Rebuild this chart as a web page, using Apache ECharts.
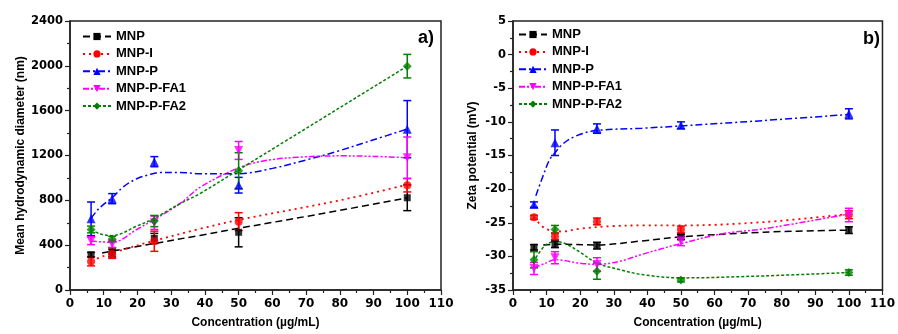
<!DOCTYPE html>
<html>
<head>
<meta charset="utf-8">
<script src="https://cdn.jsdelivr.net/npm/echarts@6/dist/echarts.min.js"></script>
<style>html,body{margin:0;padding:0;background:#fff}#c{width:898px;height:334px}</style>
</head>
<body>
<div id="c"></div>
<script>
// ---------- DATA ----------
const conc = [6.25, 12.5, 25, 50, 100];
const names = ['MNP', 'MNP-I', 'MNP-P', 'MNP-P-FA1', 'MNP-P-FA2'];
const xTicks = [0, 10, 20, 30, 40, 50, 60, 70, 80, 90, 100, 110];
const sizeTicks = [0, 400, 800, 1200, 1600, 2000, 2400];
const zetaTicks = [-35, -30, -25, -20, -15, -10, -5, 0, 5];

// a) mean hydrodynamic diameter (nm)
const sizeMNP     = [315, 335, 460, 515, 823];
const sizeMNP_I   = [255, 322, 435, 610, 935];
const sizeMNP_P   = [635, 815, 1145, 935, 1435];
const sizeFA1     = [440, 410, 600, 1245, 1180];
const sizeFA2     = [540, 455, 615, 1065, 1997];
const sizeErrMNP   = [20, 40, 45, 130, 115];
const sizeErrMNP_I = [40, 40, 90, 80, 60];
const sizeErrMNP_P = [150, 45, 45, 70, 255];
const sizeErrFA1   = [35, 30, 60, 80, 185];
const sizeErrFA2   = [30, 25, 50, 160, 105];
// fitted curves
const sizeFitMNP   = [[9.5,330],[25,415],[38.5,487],[50,550],[80,710],[100,823]];
const sizeFitMNP_I = [[8,280],[12.5,330],[25,440],[38.5,545],[50,625],[80,800],[100,940]];
const sizeFitMNP_P = [[6.25,640],[8.3,718],[9.8,760],[12.8,832],[15.8,920],[19.8,993],[23.7,1031],[26.7,1049],[32.6,1049],[38.5,1037],[50,1038],[60,1085],[70,1160],[80,1244],[90,1340],[100,1436]];
const sizeFitFA1   = [[6.25,438],[12.5,425],[19.8,540],[25,630],[32.6,770],[38.5,915],[50,1090],[58,1155],[68,1185],[80,1197],[90,1192],[100,1180]];
const sizeFitFA2   = [[6.25,540],[9,500],[12.5,485],[19.8,570],[25,640],[32.6,770],[38.5,860],[50,1072],[100,1997]];

// b) zeta potential (mV)
const zetaMNP   = [-28.65, -28.2, -28.4, -27.1, -26.1];
const zetaMNP_I = [-24.2, -27.0, -24.8, -26.0, -23.8];
const zetaMNP_P = [-22.3, -13.1, -11.0, -10.5, -8.8];
const zetaFA1   = [-31.8, -30.2, -31.2, -27.7, -23.85];
const zetaFA2   = [-30.5, -26.0, -32.2, -33.5, -32.4];
const zetaErrMNP   = [0.4, 0.5, 0.5, 0.4, 0.5];
const zetaErrMNP_I = [0.3, 0.5, 0.5, 0.5, 0.6];
const zetaErrMNP_P = [0.4, 1.9, 0.7, 0.5, 0.75];
const zetaErrFA1   = [0.9, 0.9, 1.0, 0.7, 1.0];
const zetaErrFA2   = [1.2, 0.6, 1.2, 0.3, 0.4];
const zetaFitMNP   = [[9,-28.3],[12.5,-28.2],[25,-28.3],[38.4,-27.7],[50,-27.1],[74.7,-26.4],[100,-26.1]];
const zetaFitMNP_I = [[6.25,-24.2],[9.75,-25.9],[14.8,-26.3],[19.7,-25.9],[29.5,-25.5],[38.4,-25.4],[50,-25.4],[74.7,-24.9],[100,-23.7]];
const zetaFitMNP_P = [[6.8,-21.0],[8.9,-18.1],[10.8,-15.7],[12.3,-14.7],[14.8,-13.3],[18.7,-12.1],[24.6,-11.3],[38.4,-10.95],[50,-10.6],[74.7,-9.8],[100,-8.9]];
const zetaFitFA1   = [[6.25,-31.7],[9.75,-31.0],[12.5,-30.5],[19.7,-31.0],[25,-31.2],[32,-30.7],[38.4,-29.7],[50,-28.1],[62.7,-26.6],[74.7,-25.9],[100,-23.7]];
const zetaFitFA2   = [[6.8,-30.2],[9.75,-28.3],[12.5,-27.8],[15.6,-28.1],[19.7,-29.3],[25,-31.0],[32,-32.0],[38.4,-32.7],[50,-33.2],[74.7,-32.9],[100,-32.4]];

// ---------- STYLE ----------
const FONT = 'Liberation Sans, Arial, sans-serif';
const TICKFONT = 'DejaVu Sans, sans-serif';
const styles = [
  {color: '#000000', symbol: 'rect', size: 7, rotate: 0, dash: [7, 4], width: 1.5},
  {color: '#ff0000', symbol: 'circle', size: 8, rotate: 0, dash: [2, 4], width: 1.8},
  {color: '#0000ff', symbol: 'triangle', size: 9, rotate: 0, dash: [7, 3, 2, 3], width: 1.5},
  {color: '#ff00ff', symbol: 'triangle', size: 9, rotate: 180, dash: [6, 2, 2, 2, 2, 2], width: 1.5},
  {color: '#008000', symbol: 'diamond', size: 9, rotate: 0, dash: [3, 2], width: 1.5}
];

const sizeVals = [sizeMNP, sizeMNP_I, sizeMNP_P, sizeFA1, sizeFA2];
const sizeErrs = [sizeErrMNP, sizeErrMNP_I, sizeErrMNP_P, sizeErrFA1, sizeErrFA2];
const sizeFits = [sizeFitMNP, sizeFitMNP_I, sizeFitMNP_P, sizeFitFA1, sizeFitFA2];
const zetaVals = [zetaMNP, zetaMNP_I, zetaMNP_P, zetaFA1, zetaFA2];
const zetaErrs = [zetaErrMNP, zetaErrMNP_I, zetaErrMNP_P, zetaErrFA1, zetaErrFA2];
const zetaFits = [zetaFitMNP, zetaFitMNP_I, zetaFitMNP_P, zetaFitFA1, zetaFitFA2];

function errRender(color) {
  return function (params, api) {
    const x = api.value(0), y = api.value(1), e = api.value(2);
    const top = api.coord([x, y + e]);
    const bot = api.coord([x, y - e]);
    const hw = 4;
    const st = {stroke: color, lineWidth: 1.5};
    return {type: 'group', children: [
      {type: 'line', shape: {x1: top[0], y1: top[1], x2: bot[0], y2: bot[1]}, style: st},
      {type: 'line', shape: {x1: top[0] - hw, y1: top[1], x2: top[0] + hw, y2: top[1]}, style: st},
      {type: 'line', shape: {x1: bot[0] - hw, y1: bot[1], x2: bot[0] + hw, y2: bot[1]}, style: st}
    ]};
  };
}

const series = [];
function addPanel(idx, vals, errs, fits) {
  names.forEach((n, i) => {
    const s = styles[i];
    series.push({
      name: n, type: 'line', xAxisIndex: idx, yAxisIndex: idx,
      data: fits[i], smooth: 0.35, showSymbol: false,
      symbol: s.symbol, symbolSize: 7, symbolRotate: s.rotate,
      lineStyle: {color: s.color, width: s.width, type: s.dash},
      itemStyle: {color: s.color}, z: 2, silent: true
    });
  });
  names.forEach((n, i) => {
    series.push({
      name: n + ' err', type: 'custom', xAxisIndex: idx, yAxisIndex: idx,
      data: conc.map((c, k) => [c, vals[i][k], errs[i][k]]),
      encode: {x: 0, y: 1}, renderItem: errRender(styles[i].color), z: 3, silent: true
    });
  });
  names.forEach((n, i) => {
    const s = styles[i];
    series.push({
      name: n + ' pts', type: 'scatter', xAxisIndex: idx, yAxisIndex: idx,
      data: conc.map((c, k) => [c, vals[i][k]]),
      symbol: s.symbol, symbolSize: s.size, symbolRotate: s.rotate,
      itemStyle: {color: s.color}, z: 4, silent: true
    });
  });
}
addPanel(0, sizeVals, sizeErrs, sizeFits);
addPanel(1, zetaVals, zetaErrs, zetaFits);

const plain = v => String(v);

function xAx(gi) {
  return {
    type: 'value', gridIndex: gi, min: xTicks[0], max: xTicks[xTicks.length - 1], interval: 10,
    name: 'Concentration (µg/mL)', nameLocation: 'middle', nameGap: 27,
    nameTextStyle: {fontFamily: FONT, fontWeight: 'bold', fontSize: 12, color: '#000'},
    axisLine: {show: true, onZero: false, lineStyle: {color: '#222', width: 1.5}},
    axisTick: {show: true, inside: false, length: 5, lineStyle: {color: '#222', width: 1.2}},
    minorTick: {show: true, splitNumber: 2, length: 3, lineStyle: {color: '#222', width: 1.2}},
    axisLabel: {fontFamily: TICKFONT, fontWeight: 'bold', fontSize: 12, color: '#000', margin: 8, formatter: plain},
    splitLine: {show: false}
  };
}
function yAx(gi, ticks, name, gap) {
  return {
    type: 'value', gridIndex: gi, min: ticks[0], max: ticks[ticks.length - 1], interval: ticks[1] - ticks[0],
    name: name, nameLocation: 'middle', nameGap: gap, nameRotate: 90,
    nameTextStyle: {fontFamily: FONT, fontWeight: 'bold', fontSize: 12, color: '#000'},
    axisLine: {show: true, onZero: false, lineStyle: {color: '#222', width: 1.5}},
    axisTick: {show: true, inside: false, length: 5, lineStyle: {color: '#222', width: 1.2}},
    minorTick: {show: true, splitNumber: 2, length: 3, lineStyle: {color: '#222', width: 1.2}},
    axisLabel: {fontFamily: TICKFONT, fontWeight: 'bold', fontSize: 11.5, color: '#000', margin: 7, formatter: plain},
    splitLine: {show: false}
  };
}

function legend(left, top) {
  return {
    data: names, left: left, top: top, orient: 'vertical',
    itemWidth: 28, itemHeight: 9, itemGap: 2.4, selectedMode: false,
    textStyle: {fontFamily: FONT, fontWeight: 'bold', fontSize: 13, color: '#000', lineHeight: 15},
    padding: 0
  };
}

const chart = echarts.init(document.getElementById('c'), null, {renderer: 'canvas'});
chart.setOption({
  animation: false,
  backgroundColor: '#fff',
  grid: [
    {left: 70, top: 21, width: 371, height: 274, show: true, borderColor: '#222', borderWidth: 1.5, containLabel: false},
    {left: 513, top: 21, width: 373, height: 275, show: true, borderColor: '#222', borderWidth: 1.5, containLabel: false}
  ],
  xAxis: [xAx(0), xAx(1)],
  yAxis: [yAx(0, sizeTicks, 'Mean hydrodynamic diameter (nm)', 43), yAx(1, zetaTicks, 'Zeta potential (mV)', 34)],
  legend: [legend(82, 29), legend(518, 27)],
  graphic: [
    {type: 'text', left: 418, top: 29, style: {text: 'a)', fontFamily: FONT, fontWeight: 'bold', fontSize: 18, fill: '#000'}},
    {type: 'text', left: 863, top: 30, style: {text: 'b)', fontFamily: FONT, fontWeight: 'bold', fontSize: 18, fill: '#000'}}
  ],
  series: series
});
</script>
</body>
</html>
